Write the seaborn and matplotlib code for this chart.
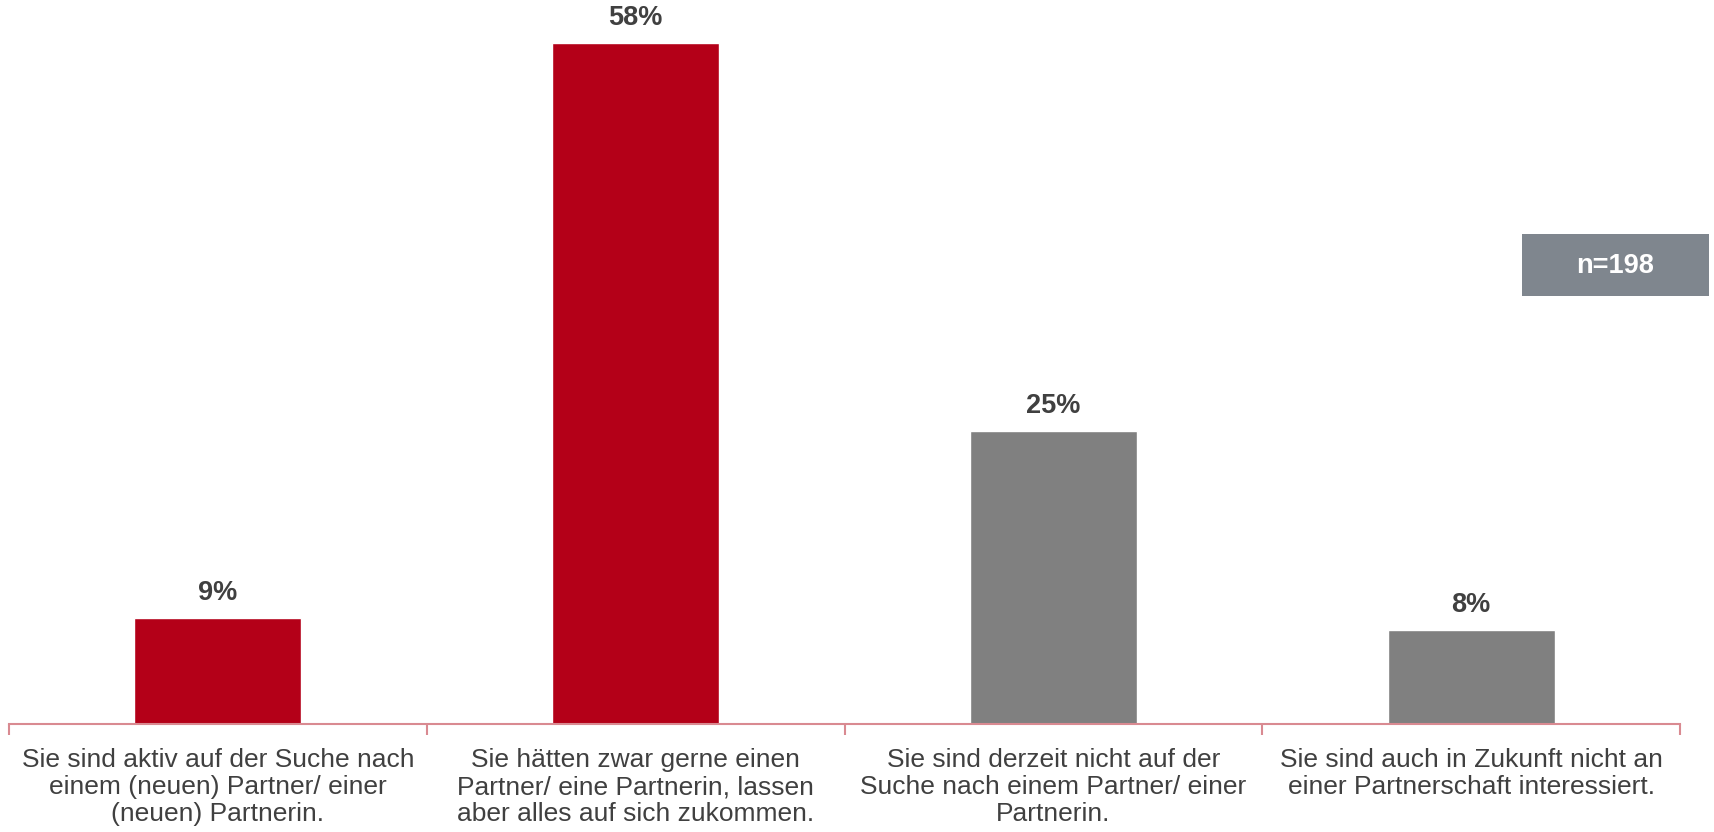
import matplotlib
matplotlib.use("Agg")
import matplotlib.pyplot as plt
from matplotlib.patches import Rectangle
import numpy as np
import pandas as pd
import seaborn as sns

sns.set_style("white")
plt.rcParams["font.family"] = ["Liberation Sans", "DejaVu Sans"]

CATEGORIES = [
    "Sie sind aktiv auf der Suche nach\neinem (neuen) Partner/ einer\n(neuen) Partnerin.",
    "Sie hätten zwar gerne einen\nPartner/ eine Partnerin, lassen\naber alles auf sich zukommen.",
    "Sie sind derzeit nicht auf der\nSuche nach einem Partner/ einer\nPartnerin.",
    "Sie sind auch in Zukunft nicht an\neiner Partnerschaft interessiert.",
]
VALUES = [9, 58, 25, 8]
VALUE_LABELS = ["9%", "58%", "25%", "8%"]
NOTE = "n=198"

RED = "#B40018"
GREY = "#808080"
BAR_COLORS = [RED, RED, GREY, GREY]
AXIS_COLOR = "#D98A91"
TEXT_COLOR = "#404040"

df = pd.DataFrame({"cat": CATEGORIES, "value": VALUES})

fig = plt.figure(figsize=(17.14, 8.32), dpi=100)
ax = fig.add_axes([9 / 1714, 108 / 832, (1680 - 9) / 1714, 724 / 832])
sns.barplot(data=df, x="cat", y="value", hue="cat", palette=BAR_COLORS,
            legend=False, width=0.4, saturation=1, ax=ax)

ax.set_xlim(-0.5, len(CATEGORIES) - 0.5)
ax.set_ylim(0, 61.7)
ax.set_xlabel("")
ax.set_ylabel("")
ax.set_yticks([])
for s in ["top", "left", "right"]:
    ax.spines[s].set_visible(False)
ax.spines["bottom"].set_color(AXIS_COLOR)
ax.spines["bottom"].set_linewidth(1.5)

ax.set_xticks(range(len(CATEGORIES)))
ax.set_xticklabels(CATEGORIES, fontsize=19, color=TEXT_COLOR, linespacing=1.18)
ax.set_xticks(np.arange(-0.5, len(CATEGORIES), 1.0), minor=True)
ax.tick_params(axis="x", which="major", bottom=False, length=0, pad=17)
ax.tick_params(axis="x", which="minor", bottom=True, length=8, width=1.5,
               color=AXIS_COLOR, direction="out")

for i, (v, lab) in enumerate(zip(VALUES, VALUE_LABELS)):
    ax.annotate(lab, (i, v), xytext=(0, 18), textcoords="offset points",
                ha="center", va="center", fontsize=19.5, fontweight="bold",
                color=TEXT_COLOR)

# n box
fig.patches.append(Rectangle((1522 / 1714, 1 - 296 / 832), (1709 - 1522) / 1714,
                             (296 - 234) / 832, transform=fig.transFigure,
                             facecolor="#7F868E", edgecolor="none", zorder=0))
fig.text(1615 / 1714, 1 - 266 / 832, NOTE, ha="center", va="center",
         fontsize=19.5, fontweight="bold", color="white")

fig.savefig("out.png", dpi=100)
